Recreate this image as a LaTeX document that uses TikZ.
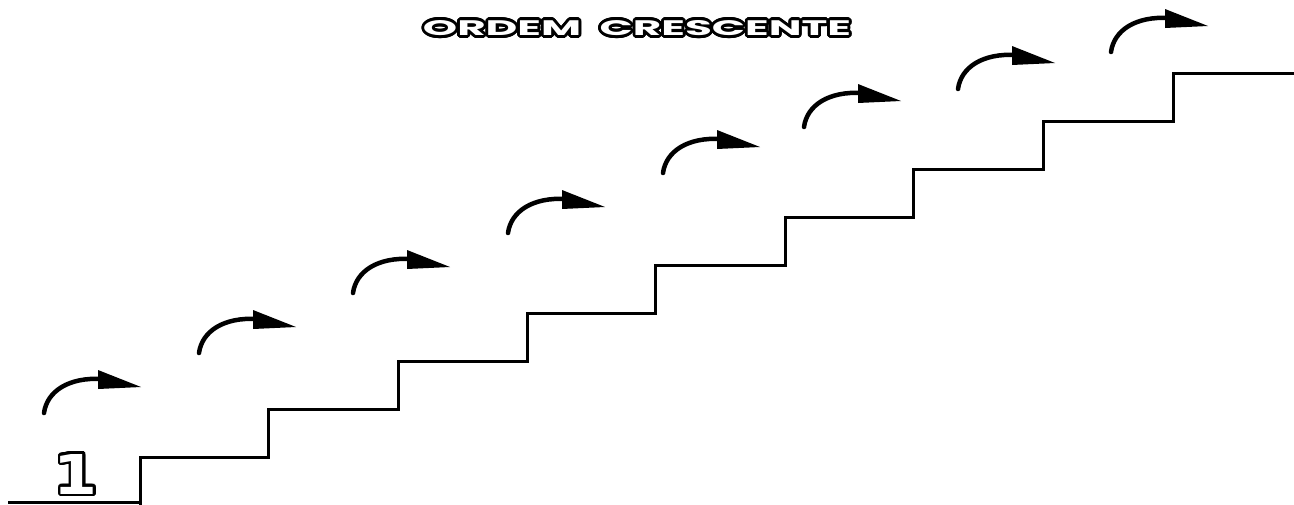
\documentclass[tikz,border=0pt]{standalone}
\usepackage{fontspec}
\usepackage{graphicx}
\newfontfamily\titlefont{Poppins}
\newfontfamily\digitfont{DejaVu Sans}
\newcommand\titletxt{\resizebox{428pt}{15pt}{\titlefont\bfseries ORDEM\ \ CRESCENTE}}
\newcommand\digittxt{\resizebox{44pt}{40pt}{\digitfont\bfseries 1}}
\begin{document}
\begin{tikzpicture}[x=1pt,y=-1pt,
  stair/.style={line width=3pt,line join=miter},
  arc/.style={line width=4.5pt,line cap=round},
  head/.style={fill=black},
  outl/.style={inner sep=0pt,text=black},
  fillt/.style={inner sep=0pt,text=white}]
\useasboundingbox (0,0) rectangle (1294,504);
\fill[white] (0,0) rectangle (1294,504);
% staircase
\draw[stair] (8,502) -- (140,502);
\draw[stair] (140,505) -- (140,457) -- (268,457) -- (268,409) -- (398,409) -- (398,361)
  -- (527,361) -- (527,313) -- (655,313) -- (655,265) -- (785,265) -- (785,217)
  -- (913,217) -- (913,169) -- (1043,169) -- (1043,121) -- (1173,121) -- (1173,73) -- (1295,73);
% arrows
\foreach \sx/\sy in {44/413,199/353,353/293,508/233,663/173,804/127,958/89,1111/52}{
  \begin{scope}[shift={(\sx,\sy)}]
    \draw[arc] (0,0) .. controls (3,-22) and (25,-36) .. (58,-34);
    \fill[head] (54,-43) -- (97,-26) -- (54,-24) -- cycle;
  \end{scope}
}
% title with outline
\foreach \a in {0,15,...,345}{
  \node[outl,shift={(\a:2.8)}] (t\a) at (637,28) {\titletxt};
}
\node[fillt] (title) at (637,28) {\titletxt};
% digit with outline
\foreach \a in {0,15,...,345}{
  \node[outl,shift={(\a:2.8)}] (d\a) at (76,474) {\digittxt};
}
\node[fillt] (one) at (76,474) {\digittxt};
\end{tikzpicture}
\end{document}
